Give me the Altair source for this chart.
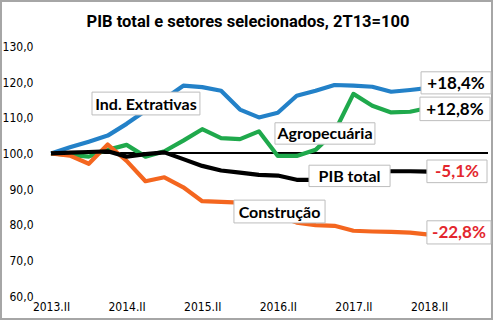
import altair as alt
import pandas as pd

quarters = ["2013.II", "2013.III", "2013.IV", "2014.I", "2014.II", "2014.III", "2014.IV",
            "2015.I", "2015.II", "2015.III", "2015.IV", "2016.I", "2016.II", "2016.III",
            "2016.IV", "2017.I", "2017.II", "2017.III", "2017.IV", "2018.I", "2018.II"]

extrativas = [100, 101.7, 103.3, 105.0, 108.3, 112.0, 115.3, 119.0, 118.6, 117.6, 112.3,
              110.1, 111.4, 116.2, 117.6, 119.2, 119.0, 118.7, 117.3, 117.8, 118.4]
agro = [100, 99.6, 99.1, 101.0, 102.4, 99.1, 100.6, 103.6, 106.8, 104.3, 104.0,
        106.2, 99.3, 99.3, 101.0, 106.0, 116.7, 113.4, 111.5, 111.7, 112.8]
construcao = [100, 99.4, 97.1, 102.5, 97.9, 92.2, 93.3, 90.5, 86.6, 86.4, 86.2,
              84.5, 82.5, 80.6, 79.9, 79.7, 78.3, 78.1, 78.0, 77.8, 77.2]
pib = [100, 100.2, 100.4, 100.6, 99.1, 99.8, 100.3, 98.4, 96.5, 95.2, 94.6,
       94.0, 93.8, 92.6, 92.6, 93.6, 94.4, 94.8, 95.0, 95.0, 94.9]

series_names = ["Ind. Extrativas", "Agropecuária", "Construção", "PIB total"]
series_colors = ["#2381c8", "#1fa94c", "#f4661f", "#000000"]
series_values = [extrativas, agro, construcao, pib]

title_text = "PIB total e setores selecionados, 2T13=100"

# annotation boxes (label text, x-range in quarter index, y-range in index value)
ann_text = ["Ind. Extrativas", "Agropecuária", "PIB total", "Construção",
            "+18,4%", "+12,8%", "-5,1%", "-22,8%"]
ann_color = ["#000000", "#000000", "#000000", "#000000",
             "#000000", "#000000", "#e3262e", "#e3262e"]
ann_size = [16, 16, 16, 16, 17, 17, 17, 17]
ann_x1 = [2.17, 11.85, 13.65, 9.68, 19.58, 19.52, 19.89, 19.89]
ann_x2 = [7.88, 17.14, 17.94, 14.50, 23.28, 23.23, 23.07, 23.28]
ann_y1 = [117.2, 108.6, 96.7, 86.9, 122.9, 115.8, 98.15, 81.1]
ann_y2 = [110.8, 102.6, 90.7, 80.5, 116.7, 109.2, 91.8, 74.6]

rows = []
for name, vals in zip(series_names, series_values):
    for i, (q, v) in enumerate(zip(quarters, vals)):
        rows.append({"serie": name, "i": i, "q": q, "v": v})
df = pd.DataFrame(rows)

ann = pd.DataFrame({
    "t": ann_text, "c": ann_color, "s": ann_size,
    "x1": ann_x1, "x2": ann_x2, "y1": ann_y1, "y2": ann_y2,
})
ann["xm"] = (ann["x1"] + ann["x2"]) / 2
ann["ym"] = (ann["y1"] + ann["y2"]) / 2

FONT = "Liberation Sans Narrow, DejaVu Sans Condensed, sans-serif"
BFONT = "Lato, Liberation Sans, sans-serif"
TFONT = "Roboto, Liberation Sans, sans-serif"

xscale = alt.Scale(domain=[0, 20], range=[50, 428], nice=False, zero=False)
yscale = alt.Scale(domain=[60, 130], range=[295, 45.5], nice=False, zero=False)

year_idx = [0, 4, 8, 12, 16, 20]
label_map = "{" + ",".join(f"'{k}':'{quarters[k]}'" for k in year_idx) + "}"

xaxis = alt.Axis(values=year_idx, labelExpr=f"{label_map}[datum.value]", title=None,
                 grid=False, domain=False, ticks=False, offset=-18, labelPadding=0,
                 labelBaseline="top", labelFont=FONT, labelFontSize=12,
                 labelColor="#000000", labelFlush=False)
yaxis = alt.Axis(values=[60, 70, 80, 90, 100, 110, 120, 130],
                 labelExpr="replace(format(datum.value, '.1f'), '.', ',')",
                 title=None, grid=False, domain=False, ticks=False, offset=-34,
                 labelPadding=2, labelFont=FONT, labelFontSize=12, labelColor="#000000")

base_line = alt.Chart(df).mark_rule(color="#000000", strokeWidth=1).encode(
    x=alt.datum(0, scale=xscale, axis=xaxis, type="quantitative"),
    x2=alt.value(487),
    y=alt.datum(100, scale=yscale, axis=yaxis, type="quantitative"),
)

lines = alt.Chart(df).mark_line(strokeWidth=4.2, strokeJoin="round").encode(
    x=alt.X("i:Q", scale=xscale, axis=xaxis),
    y=alt.Y("v:Q", scale=yscale, axis=yaxis),
    color=alt.Color("serie:N", scale=alt.Scale(domain=series_names, range=series_colors),
                    legend=None),
)

boxes = alt.Chart(ann).mark_rect(fill="#ffffff", stroke="#bdbdbd", strokeWidth=1).encode(
    x=alt.X("x1:Q", scale=xscale, axis=xaxis), x2="x2:Q",
    y=alt.Y("y1:Q", scale=yscale, axis=yaxis), y2="y2:Q",
)

texts = alt.Chart(ann).mark_text(font=BFONT, fontWeight="bold", baseline="middle",
                                 align="center", dy=1).encode(
    x=alt.X("xm:Q", scale=xscale, axis=xaxis),
    y=alt.Y("ym:Q", scale=yscale, axis=yaxis),
    text="t:N",
    color=alt.Color("c:N", scale=None),
    size=alt.Size("s:Q", scale=None),
)

title = alt.Chart(pd.DataFrame({"t": [title_text]})).mark_text(
    font=TFONT, fontSize=16.5, fontWeight="bold", color="#000000",
    align="center", baseline="alphabetic",
).encode(x=alt.value(247), y=alt.value(26), text="t:N")

chart = alt.layer(base_line, lines, boxes, texts, title).properties(
    width=491, height=318,
    autosize=alt.AutoSizeParams(type="none"),
    padding={"left": 1, "top": 1, "right": 1, "bottom": 1},
    background="#ffffff",
).configure_view(stroke="#a6a6a6", strokeWidth=2)

chart.save("out.html", embed_options={"renderer": "svg", "actions": False})
